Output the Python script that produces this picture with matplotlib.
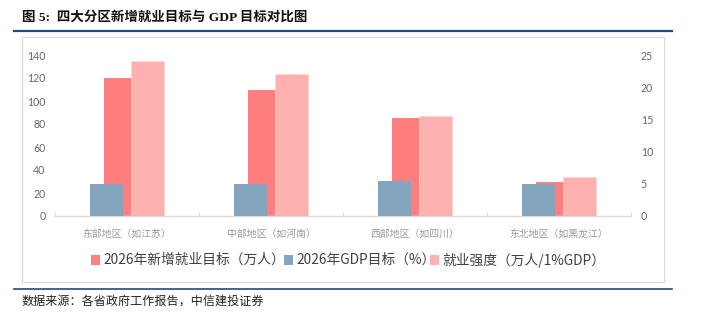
import matplotlib
matplotlib.use("Agg")
import matplotlib.pyplot as plt
from matplotlib.patches import Rectangle
from matplotlib.lines import Line2D
import numpy as np

plt.rcParams['font.family'] = ['Noto Sans CJK SC', 'DejaVu Sans']

# Data
regions = ["东部地区（如江苏）", "中部地区（如河南）", "西部地区（如四川）", "东北地区（如黑龙江）"]
new_jobs = [120, 110, 85, 30]          # 2026 new jobs target, 10k people (left axis)
gdp_target = [5.0, 5.0, 5.5, 5.0]      # 2026 GDP target, % (right axis)
job_intensity = [24.0, 22.0, 15.5, 6.0]  # 10k people per 1% GDP (right axis)
series_names = ["2026年新增就业目标（万人）", "2026年GDP目标（%）", "就业强度（万人/1%GDP）"]
left_ticks = [0, 20, 40, 60, 80, 100, 120, 140]
right_ticks = [0, 5, 10, 15, 20, 25]

RED = "#FF7F7F"
BLUE = "#84A5BE"
PINK = "#FFB0B1"
NAVY = "#1F4E79"

W, H = 701, 336
fig = plt.figure(figsize=(W / 100, H / 100), dpi=100)


def fx(px):
    return px / W


def fy(py):
    return 1 - py / H


# Frame around chart area
fig.patches.append(Rectangle((fx(22), fy(282)), fx(664) - fx(22), fy(37) - fy(282),
                             transform=fig.transFigure, fill=False,
                             edgecolor="#D9D9D9", linewidth=0.8))
# Rules above and below
fig.add_artist(Line2D([fx(14), fx(672)], [fy(30.5), fy(30.5)], color=NAVY, linewidth=1.6))
fig.add_artist(Line2D([fx(14), fx(672)], [fy(289), fy(289)], color=NAVY, linewidth=1.2))

fig.text(fx(22), fy(17), "图 5:  四大分区新增就业目标与 GDP 目标对比图",
         family=['Liberation Serif', 'Noto Sans CJK SC'], fontweight='bold',
         fontsize=9.7, va='center', ha='left', color="#111111")
fig.text(fx(22), fy(302), "数据来源：各省政府工作报告，中信建投证券",
         family=['Liberation Serif', 'Noto Sans CJK SC'], style='italic',
         fontsize=8.7, va='center', ha='left', color="#222222")

ax = fig.add_axes([fx(55), fy(216), fx(631) - fx(55), fy(55) - fy(216)])
ax2 = ax.twinx()

x = np.arange(len(regions))
ax.bar(x, new_jobs, width=0.32, color=RED, zorder=2)
ax2.bar(x - 0.142, gdp_target, width=0.229, color=BLUE, zorder=3)
ax2.bar(x + 0.142, job_intensity, width=0.229, color=PINK, edgecolor="#FFD6D6",
        linewidth=0.6, zorder=3)

ax.set_xlim(-0.5, len(regions) - 0.5)
ax.set_ylim(0, 140)
ax2.set_ylim(0, 25)
ax.set_yticks(left_ticks)
ax2.set_yticks(right_ticks)

for a in (ax, ax2):
    for s in a.spines.values():
        s.set_visible(False)
    a.tick_params(axis='y', length=0, colors="#666666", labelsize=7.6)
ax.tick_params(axis='y', pad=7)
ax2.tick_params(axis='y', pad=7)
for lab in ax.get_yticklabels() + ax2.get_yticklabels():
    lab.set_family(['Lato', 'DejaVu Sans'])

ax.spines['bottom'].set_visible(True)
ax.spines['bottom'].set_color("#D9D9D9")
ax.spines['bottom'].set_linewidth(1.0)

# Category boundary ticks pointing inward, labels at centres
ax.set_xticks(np.arange(len(regions) + 1) - 0.5)
ax.set_xticklabels([])
ax.tick_params(axis='x', direction='in', length=3, color="#D9D9D9", width=0.8)
ax.set_xticks(x, minor=True)
ax.set_xticklabels(regions, minor=True, fontsize=7.1, color="#999999")
ax.tick_params(axis='x', which='minor', length=0, pad=9)

# Legend
leg_y = fy(260)
items = [(90.7, RED, series_names[0]), (284, BLUE, series_names[1]), (430, PINK, series_names[2])]
for px0, col, name in items:
    fig.patches.append(Rectangle((fx(px0), fy(265)), fx(9), fy(255) - fy(265),
                                 transform=fig.transFigure, facecolor=col, edgecolor='none'))
    fig.text(fx(px0 + 12.5), leg_y, name, fontsize=9.9, va='center', ha='left', color="#404040")

fig.savefig("out.png", dpi=100)
